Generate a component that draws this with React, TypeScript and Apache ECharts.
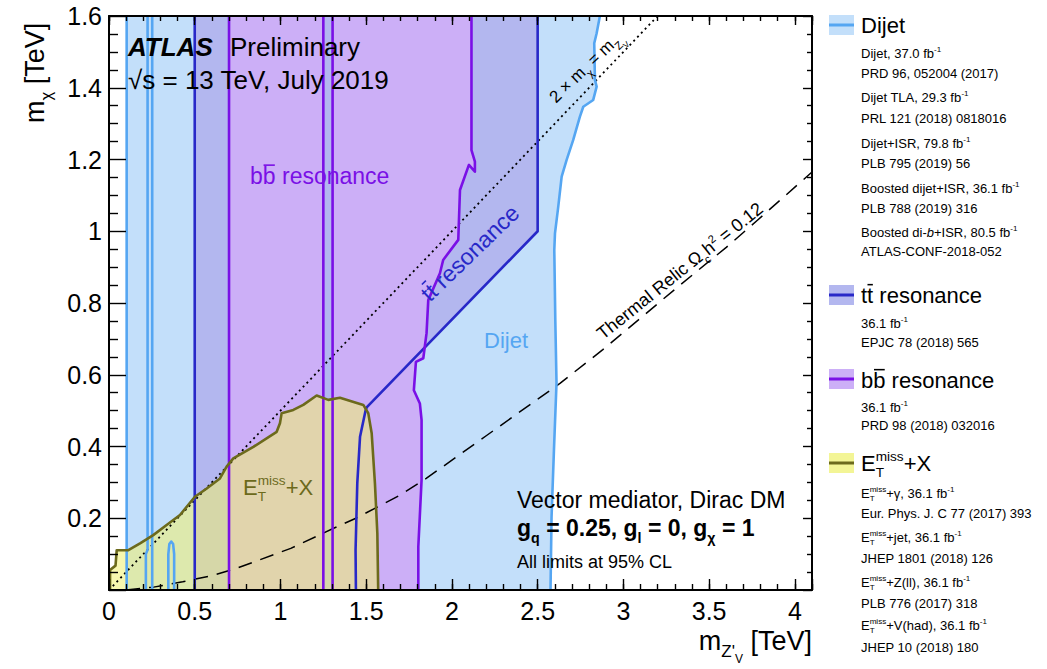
import React, { useEffect, useRef } from 'react';
import * as echarts from 'echarts';

const FONT = '"Liberation Sans", Arial, Helvetica, sans-serif';

// ---------- axes ----------
const X_MIN = 0;
const X_MAX = 4.1;
const X_MAJOR = 0.5;
const X_MINOR = 0.1;
const Y_MIN = 0;
const Y_MAX = 1.6;
const Y_MAJOR = 0.2;

// ---------- data (m_Z'V [TeV], m_chi [TeV]) ----------
const dijetLeft: [number, number][] = [[0.103, 0], [0.103, 1.6]];
const dijetTLA1: [number, number][] = [[0.215, 0], [0.215, 0.1], [0.225, 0.112], [0.225, 1.6]];
const dijetTLA2: [number, number][] = [[0.252, 0], [0.252, 1.6]];
const dijetISR: [number, number][] = [[0.346, 0], [0.346, 0.1], [0.352, 0.128], [0.363, 0.135], [0.374, 0.128], [0.38, 0.1], [0.38, 0]];
const dijetEdge: [number, number][] = [
  [2.863, 1.6], [2.844, 1.552], [2.83, 1.524], [2.834, 1.422], [2.844, 1.403], [2.824, 1.366],
  [2.766, 1.347], [2.746, 1.319], [2.707, 1.254], [2.669, 1.199], [2.64, 1.152], [2.62, 1.068],
  [2.601, 0.994], [2.597, 0.948], [2.603, 0.75], [2.61, 0.577], [2.595, 0.39], [2.581, 0.203], [2.575, 0],
];

const ttLeft: [number, number][] = [[0.5, 0], [0.5, 1.6]];
const ttEdge: [number, number][] = [
  [2.5, 1.6], [2.5, 1.0], [1.504, 0.51], [1.497, 0.502], [1.464, 0.427], [1.448, 0.297], [1.438, 0.111], [1.44, 0],
];

const bbLeft: [number, number][] = [[0.7, 0], [0.7, 1.6]];
const bbGapL: [number, number][] = [[1.25, 0], [1.25, 1.6]];
const bbGapR: [number, number][] = [[1.304, 0], [1.304, 1.6]];
const bbEdge: [number, number][] = [
  [2.114, 1.6], [2.114, 1.226], [2.134, 1.194], [2.134, 1.166], [2.099, 1.185], [2.047, 1.115],
  [2.037, 0.976], [1.949, 0.92], [1.93, 0.883], [1.862, 0.808], [1.852, 0.716], [1.833, 0.646],
  [1.79, 0.636], [1.778, 0.557], [1.813, 0.52], [1.823, 0.474], [1.823, 0.307], [1.804, 0.121], [1.804, 0],
];

const etEdge: [number, number][] = [
  [0.006, 0], [0.006, 0.056], [0.038, 0.068], [0.045, 0.111], [0.113, 0.111], [0.181, 0.13],
  [0.258, 0.153], [0.336, 0.181], [0.414, 0.209], [0.501, 0.26], [0.57, 0.283], [0.647, 0.311],
  [0.686, 0.344], [0.725, 0.367], [0.842, 0.399], [0.978, 0.441], [0.997, 0.465], [1.007, 0.493],
  [1.075, 0.502], [1.133, 0.516], [1.211, 0.542], [1.279, 0.53], [1.347, 0.536], [1.483, 0.516],
  [1.512, 0.493], [1.532, 0.437], [1.551, 0.297], [1.565, 0.158], [1.57, 0],
];

const diagonal: [number, number][] = [[0, 0], [3.2, 1.6]];
const relic: [number, number][] = [
  [0.1, 0], [0.26, 0.008], [0.43, 0.023], [0.59, 0.039], [0.73, 0.058], [1.06, 0.116], [1.31, 0.172],
  [1.44, 0.2], [1.7, 0.265], [1.85, 0.311], [2.2, 0.43], [2.63, 0.576], [2.88, 0.67], [3.33, 0.85],
  [3.6, 0.955], [3.78, 1.03], [4.1, 1.165],
];

// ---------- legend text ----------
const dijetRefs = [
  'Dijet, 37.0 fb^{-1}', 'PRD 96, 052004 (2017)', 'Dijet TLA, 29.3 fb^{-1}', 'PRL 121 (2018) 0818016',
  'Dijet+ISR, 79.8 fb^{-1}', 'PLB 795 (2019) 56', 'Boosted dijet+ISR, 36.1 fb^{-1}', 'PLB 788 (2019) 316',
  'Boosted di-#{b}+ISR, 80.5 fb^{-1}', 'ATLAS-CONF-2018-052',
];
const dijetRefsY = [53, 73, 97, 118, 143, 163, 188, 208, 232, 251];
const ttRefs = ['36.1 fb^{-1}', 'EPJC 78 (2018) 565'];
const ttRefsY = [323, 342];
const bbRefs = ['36.1 fb^{-1}', 'PRD 98 (2018) 032016'];
const bbRefsY = [407, 425];
const etRefs = [
  'E_{T}^{miss}+γ, 36.1 fb^{-1}', 'Eur. Phys. J. C 77 (2017) 393', 'E_{T}^{miss}+jet, 36.1 fb^{-1}',
  'JHEP 1801 (2018) 126', 'E_{T}^{miss}+Z(ll), 36.1 fb^{-1}', 'PLB 776 (2017) 318',
  'E_{T}^{miss}+V(had), 36.1 fb^{-1}', 'JHEP 10 (2018) 180',
];
const etRefsY = [493, 513, 537, 558, 582, 603, 625, 647];

// ---------- colours ----------
const DIJET_FILL = '#c3dffa';
const DIJET_LINE = '#55a6f2';
const TT_FILL = '#b3b7ef';
const TT_LINE = '#2828c8';
const BB_FILL = '#ccaff7';
const BB_LINE = '#7a10e6';
const ET_FILL = 'rgba(240,240,112,0.56)';
const ET_SWATCH = '#f3f596';
const ET_LINE = '#6c6a1c';

// ---------- text helpers ----------
type Run = { t: string; s: number; dy?: number; w?: string; i?: boolean; stack?: boolean; over?: number };

let mctx: CanvasRenderingContext2D | null = null;
function fontStr(size: number, weight = 'normal', style = 'normal') {
  return `${style} ${weight} ${size}px ${FONT}`;
}
function measure(t: string, size: number, weight = 'normal', style = 'normal') {
  if (!mctx) mctx = document.createElement('canvas').getContext('2d');
  if (!mctx) return t.length * size * 0.55;
  mctx.font = fontStr(size, weight, style);
  return mctx.measureText(t).width;
}

function parse(str: string, size: number, w = 'normal'): Run[] {
  const out: Run[] = [];
  let buf = '';
  let lastKind = '';
  const flush = () => {
    if (buf) {
      out.push({ t: buf, s: size, w });
      buf = '';
      lastKind = 'plain';
    }
  };
  let i = 0;
  while (i < str.length) {
    const c = str[i];
    if ((c === '^' || c === '_' || c === '#' || c === '~') && str[i + 1] === '{') {
      const end = str.indexOf('}', i + 2);
      const inner = str.slice(i + 2, end);
      flush();
      if (c === '^') {
        out.push({ t: inner, s: size * 0.62, dy: -size * 0.42, w, stack: lastKind === 'sub' });
        lastKind = 'sup';
      } else if (c === '_') {
        out.push({ t: inner, s: size * 0.62, dy: size * 0.3, w });
        lastKind = 'sub';
      } else if (c === '#') {
        out.push({ t: inner, s: size, w, i: true });
        lastKind = 'plain';
      } else {
        out.push({ t: inner, s: size, w, over: 0.82 });
        lastKind = 'plain';
      }
      i = end + 1;
    } else {
      buf += c;
      i++;
    }
  }
  flush();
  return out;
}

function runEls(list: Run[], color: string, align: string, baseline: number): any[] {
  let x = 0;
  let prevStart = 0;
  const placed: { r: Run; start: number; wd: number }[] = [];
  for (const r of list) {
    const start = r.stack ? prevStart : x;
    const wd = measure(r.t, r.s, r.w, r.i ? 'italic' : 'normal');
    placed.push({ r, start, wd });
    prevStart = start;
    x = r.stack ? Math.max(x, start + wd) : start + wd;
  }
  const off = align === 'right' ? -x : align === 'center' ? -x / 2 : 0;
  const els: any[] = [];
  for (const { r, start, wd } of placed) {
    const by = baseline + (r.dy || 0);
    const st = r.i ? 'italic' : 'normal';
    const trimmed = r.t.replace(/^\s+/, '').replace(/\s+$/, '');
    const lead = measure(r.t.slice(0, r.t.length - r.t.replace(/^\s+/, '').length), r.s, r.w, st);
    els.push({
      type: 'text',
      x: start + off + lead,
      y: by - 0.35 * r.s,
      z: 100,
      silent: true,
      style: {
        text: trimmed,
        font: fontStr(r.s, r.w || 'normal', st),
        fill: color,
        textAlign: 'left',
        textVerticalAlign: 'middle',
        align: 'left',
        verticalAlign: 'middle',
      },
    });
    if (r.over) {
      const yy = by - r.over * r.s;
      els.push({
        type: 'line',
        z: 100,
        silent: true,
        shape: { x1: start + off + wd * 0.06, y1: yy, x2: start + off + wd * 0.94, y2: yy },
        style: { stroke: color, lineWidth: Math.max(1.2, r.s * 0.07) },
      });
    }
  }
  return els;
}

function textAt(list: Run[], color: string, x: number, baseline: number, align = 'left') {
  return { type: 'group', x, y: baseline, z: 100, silent: true, children: runEls(list, color, align, 0) };
}
function textRot(list: Run[], color: string, cx: number, cy: number, deg: number, mainSize: number) {
  return {
    type: 'group', x: cx, y: cy, rotation: (deg * Math.PI) / 180, z: 100, silent: true,
    children: runEls(list, color, 'center', 0.35 * mainSize),
  };
}

// ---------- series helpers ----------
function poly(pts: [number, number][], fill: string) {
  return {
    type: 'custom',
    coordinateSystem: 'cartesian2d',
    data: pts,
    encode: { x: 0, y: 1 },
    silent: true,
    z: 2,
    clip: true,
    renderItem: (params: any, api: any) => {
      if (params.dataIndex !== 0) return null;
      return {
        type: 'polygon',
        shape: { points: pts.map((p) => api.coord(p)) },
        style: { fill, stroke: 'none' },
      };
    },
  };
}
function lineS(pts: [number, number][], color: string, width: number, type: any = 'solid', z = 4) {
  return {
    type: 'line',
    data: pts,
    symbol: 'none',
    silent: true,
    z,
    clip: true,
    emphasis: { disabled: true },
    lineStyle: { color, width, type, cap: 'butt', join: 'round' },
  };
}

function buildOption() {
  const dijetPoly: [number, number][] = [[0.103, 0], [0.103, 1.6], ...dijetEdge];
  const ttPoly: [number, number][] = [[0.5, 0], [0.5, 1.6], ...ttEdge];
  const bbPolyA: [number, number][] = [[0.7, 0], [0.7, 1.6], [1.25, 1.6], [1.25, 0]];
  const bbPolyB: [number, number][] = [[1.304, 0], [1.304, 1.6], ...bbEdge];
  const etPoly: [number, number][] = [...etEdge];

  const LW = 2.6;
  const series: any[] = [
    poly(dijetPoly, DIJET_FILL),
    poly(ttPoly, TT_FILL),
    poly(bbPolyA, BB_FILL),
    poly(bbPolyB, BB_FILL),
    poly(etPoly, ET_FILL),
    lineS(diagonal, '#000', 1.8, [2, 3.5], 3),
    lineS(relic, '#000', 1.5, [14, 9], 3),
    lineS(dijetLeft, DIJET_LINE, LW),
    lineS(dijetTLA1, DIJET_LINE, LW),
    lineS(dijetTLA2, DIJET_LINE, LW),
    lineS(dijetISR, DIJET_LINE, LW),
    lineS(dijetEdge, DIJET_LINE, LW),
    lineS(ttLeft, TT_LINE, LW),
    lineS(ttEdge, TT_LINE, LW),
    lineS(bbLeft, BB_LINE, LW),
    lineS(bbGapL, BB_LINE, LW),
    lineS(bbGapR, BB_LINE, LW),
    lineS(bbEdge, BB_LINE, LW),
    lineS(etEdge, ET_LINE, LW),
  ];

  const frame = { show: true, onZero: false, lineStyle: { color: '#000', width: 2 } };
  const noLine = { show: false, onZero: false };
  const tickStyle = { color: '#000', width: 1.4 };
  const labelStyle = { fontSize: 25, fontFamily: FONT, color: '#000' };

  const xAxis: any[] = [
    {
      type: 'value', position: 'bottom', min: X_MIN, max: X_MAX, interval: X_MAJOR, z: 6,
      axisLine: frame, splitLine: { show: false },
      axisTick: { show: true, inside: true, length: 11, lineStyle: tickStyle },
      axisLabel: { ...labelStyle, margin: 8, formatter: (v: number) => (v > 4.05 ? '' : String(v)) },
    },
    {
      type: 'value', position: 'bottom', min: X_MIN, max: X_MAX, interval: X_MINOR, z: 6,
      axisLine: noLine, splitLine: { show: false }, axisLabel: { show: false },
      axisTick: { show: true, inside: true, length: 6, lineStyle: tickStyle },
    },
    {
      type: 'value', position: 'top', min: X_MIN, max: X_MAX, interval: X_MAJOR, z: 6,
      axisLine: frame, splitLine: { show: false }, axisLabel: { show: false },
      axisTick: { show: true, inside: true, length: 9, lineStyle: tickStyle },
    },
    {
      type: 'value', position: 'top', min: X_MIN, max: X_MAX, interval: X_MINOR, z: 6,
      axisLine: noLine, splitLine: { show: false }, axisLabel: { show: false },
      axisTick: { show: true, inside: true, length: 5, lineStyle: tickStyle },
    },
  ];
  const yAxis: any[] = [
    {
      type: 'value', position: 'left', min: Y_MIN, max: Y_MAX, interval: Y_MAJOR, z: 6,
      axisLine: frame, splitLine: { show: false },
      axisTick: { show: true, inside: true, length: 17, lineStyle: tickStyle },
      minorTick: { show: true, splitNumber: 4, length: 9, lineStyle: tickStyle },
      axisLabel: { ...labelStyle, margin: 7, formatter: (v: number) => (v === 0 ? '' : String(v)) },
    },
    {
      type: 'value', position: 'right', min: Y_MIN, max: Y_MAX, interval: Y_MAJOR, z: 6,
      axisLine: frame, splitLine: { show: false }, axisLabel: { show: false },
      axisTick: { show: true, inside: true, length: 9, lineStyle: tickStyle },
      minorTick: { show: true, splitNumber: 4, length: 5, lineStyle: tickStyle },
    },
  ];

  // ---------- graphic texts ----------
  const g: any[] = [];
  // in-plot labels
  g.push(textAt([{ t: 'ATLAS', s: 26, w: 'bold', i: true }], '#000', 128, 56));
  g.push(textAt([{ t: 'Preliminary', s: 26 }], '#000', 230, 56));
  g.push(textAt(parse('√s = 13 TeV, July 2019', 26), '#000', 128, 89));
  g.push(textAt(parse('Vector mediator, Dirac DM', 23), '#000', 517, 508));
  g.push(textAt(parse('g_{q} = 0.25, g_{l} = 0, g_{χ} = 1', 23, 'bold'), '#000', 517, 536));
  g.push(textAt(parse('All limits at 95% CL', 18), '#000', 517, 568));
  g.push(textAt(parse('b~{b} resonance', 23), BB_LINE, 250, 184));
  g.push(textAt(parse('Dijet', 22), DIJET_LINE, 484, 348));
  g.push(textAt(parse('E_{T}^{miss}+X', 22), ET_LINE, 243, 495));
  g.push(textRot(parse('t~{t} resonance', 23), TT_LINE, 470, 253, 44, 23));
  g.push(
    textRot(
      [
        { t: '2 × m', s: 17 },
        { t: 'χ', s: 11, dy: 5 },
        { t: ' = m', s: 17 },
        { t: 'Z', s: 11, dy: 5 },
        { t: 'V', s: 8, dy: 9 },
      ],
      '#000', 586, 67, 44, 17,
    ),
  );
  g.push(textRot(parse('Thermal Relic Ω_{c}h^{2} = 0.12', 18), '#000', 680, 271, 38.7, 18));

  // axis titles
  g.push({
    type: 'group', x: 44, y: 123, rotation: Math.PI / 2, z: 100, silent: true,
    children: runEls(parse('m_{χ} [TeV]', 27), '#000', 'left', 0),
  });
  g.push(
    textAt(
      [
        { t: 'm', s: 27 },
        { t: "Z'", s: 17, dy: 7 },
        { t: 'V', s: 12, dy: 13 },
        { t: ' [TeV]', s: 27 },
      ],
      '#000', 812, 650, 'right',
    ),
  );

  // legend
  const SWX = 829;
  const SWW = 25;
  const TX = 861;
  const swatch = (cy: number, fill: string, stroke: string) => {
    g.push({ type: 'rect', z: 100, silent: true, shape: { x: SWX, y: cy - 10, width: SWW, height: 20 }, style: { fill } });
    g.push({ type: 'line', z: 101, silent: true, shape: { x1: SWX, y1: cy, x2: SWX + SWW, y2: cy }, style: { stroke, lineWidth: 3 } });
  };
  const title = (str: string, cy: number) => g.push(textAt(parse(str, 22), '#000', TX, cy + 0.35 * 22));
  const refs = (lines: string[], ys: number[]) =>
    lines.forEach((l, k) => g.push(textAt(parse(l, 13), '#000', TX, ys[k] + 0.35 * 13)));

  swatch(25, DIJET_FILL, DIJET_LINE);
  title('Dijet', 25);
  refs(dijetRefs, dijetRefsY);
  swatch(295, TT_FILL, TT_LINE);
  title('t~{t} resonance', 295);
  refs(ttRefs, ttRefsY);
  swatch(379, BB_FILL, BB_LINE);
  title('b~{b} resonance', 380);
  refs(bbRefs, bbRefsY);
  swatch(463, ET_SWATCH, ET_LINE);
  title('E_{T}^{miss}+X', 463);
  refs(etRefs, etRefsY);

  return {
    animation: false,
    backgroundColor: '#ffffff',
    grid: { left: 109, top: 16, width: 703, height: 574, show: false },
    xAxis,
    yAxis,
    series,
    graphic: { elements: g },
  };
}

export default function App() {
  const ref = useRef<HTMLDivElement>(null);
  useEffect(() => {
    document.body.style.margin = '0';
    if (!ref.current) return;
    const chart = echarts.init(ref.current, undefined, { renderer: 'svg' });
    chart.setOption(buildOption() as any);
    return () => chart.dispose();
  }, []);
  return (
    <div
      ref={ref}
      style={{ position: 'absolute', left: 0, top: 0, width: 1047, height: 669, background: '#fff' }}
    />
  );
}
